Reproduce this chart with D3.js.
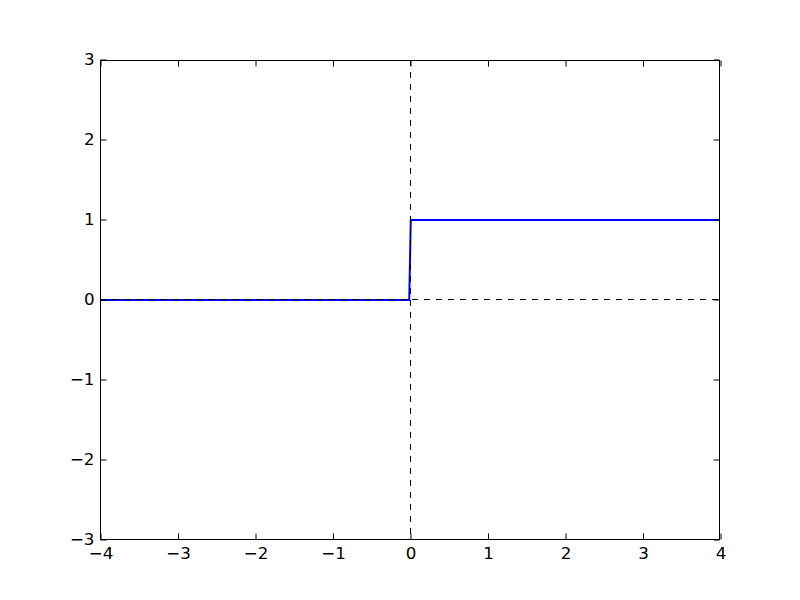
<!DOCTYPE html>
<html>
<head>
<meta charset="utf-8">
<script src="https://cdn.jsdelivr.net/npm/d3@7"></script>
<style>
  body { margin: 0; background: #fff; }
  svg { display: block; }
</style>
</head>
<body>
<div id="chart"></div>
<script>
// step function data
const xs = [-4, -0.01, 0.01, 4];
const ys = [0, 0, 1, 1];
const xTicks = [-4, -3, -2, -1, 0, 1, 2, 3, 4];
const yTicks = [-3, -2, -1, 0, 1, 2, 3];

const width = 800, height = 600;
const plotLeft = 100, plotRight = 720, plotTop = 60, plotBottom = 540;

const svg = d3.select("#chart")
    .append("svg")
    .attr("width", width)
    .attr("height", height);

const x = d3.scaleLinear().domain([-4, 4]).range([plotLeft, plotRight]);
const y = d3.scaleLinear().domain([-3, 3]).range([plotBottom, plotTop]);

const fmt = d => d < 0 ? "\u2212" + Math.abs(d) : String(d);

// the curve
const line = d3.line().x((d, i) => x(xs[i])).y((d, i) => y(ys[i]));
svg.append("path")
    .datum(xs)
    .attr("fill", "none")
    .attr("stroke", "#0000ff")
    .attr("stroke-width", 2)
    .attr("d", line);

// dashed zero lines (half pixel offset so they stay crisp)
svg.append("line")
    .attr("x1", plotLeft).attr("x2", plotRight)
    .attr("y1", y(0) - 0.5).attr("y2", y(0) - 0.5)
    .attr("stroke", "#000").attr("stroke-dasharray", "6,6");
svg.append("line")
    .attr("x1", x(0) + 0.5).attr("x2", x(0) + 0.5)
    .attr("y1", plotTop).attr("y2", plotBottom)
    .attr("stroke", "#000").attr("stroke-dasharray", "6,6");

// axes, ticks pointing inwards on all four sides
const axes = [
    [d3.axisBottom(x).tickValues(xTicks).tickFormat(fmt).tickPadding(8), `translate(0.5,${plotBottom - 0.5})`],
    [d3.axisTop(x).tickValues(xTicks).tickFormat(""), `translate(0.5,${plotTop + 0.5})`],
    [d3.axisLeft(y).tickValues(yTicks).tickFormat(fmt).tickPadding(6), `translate(${plotLeft + 0.5},-0.5)`],
    [d3.axisRight(y).tickValues(yTicks).tickFormat(""), `translate(${plotRight - 0.5},-0.5)`]
];
axes.forEach(([ax, tr]) => {
    const g = svg.append("g")
        .attr("transform", tr)
        .call(ax.tickSizeInner(-6).tickSizeOuter(0));
    g.select(".domain").remove();
    g.attr("font-size", null).attr("font-family", null);
    g.selectAll("text")
        .attr("font-family", "DejaVu Sans")
        .attr("font-size", "16.7px")
        .attr("fill", "#000");
    g.selectAll("line").attr("stroke", "#000");
});

// frame
svg.append("rect")
    .attr("x", plotLeft + 0.5).attr("y", plotTop + 0.5)
    .attr("width", plotRight - plotLeft - 1).attr("height", plotBottom - plotTop - 1)
    .attr("fill", "none").attr("stroke", "#000").attr("stroke-width", 1);
</script>
</body>
</html>
